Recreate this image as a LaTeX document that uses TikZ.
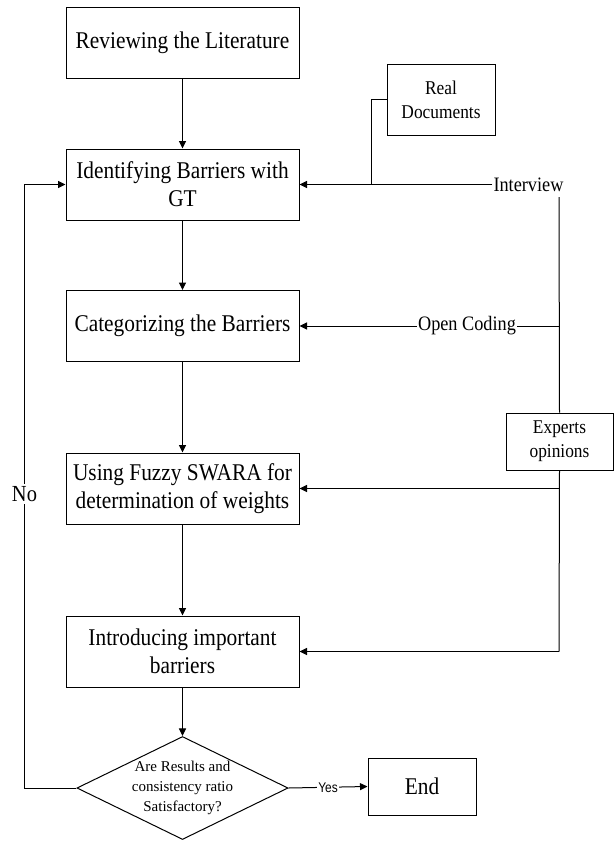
\documentclass[tikz,border=0pt]{standalone}
\usepackage{fontspec}
\setmainfont{Liberation Serif}[FakeStretch=0.89]
\newfontfamily\dfont{Liberation Serif}
\newfontfamily\yfont{Liberation Sans}[FakeStretch=0.85]
\usetikzlibrary{arrows.meta,shapes.geometric}
\tikzset{
  stepbox/.style={draw, line width=1pt, minimum width=233pt, minimum height=71pt, inner sep=0pt, align=center, font=\fontsize{24}{28}\selectfont},
  sidebox/.style={draw, line width=1pt, inner sep=0pt, align=center, font=\fontsize{19.5}{24}\selectfont},
  decision/.style={draw, line width=1pt, diamond, aspect=2.05, minimum width=205pt, minimum height=100pt, inner sep=0pt, align=center, font=\dfont\fontsize{15}{20}\selectfont},
  lab/.style={fill=white, inner sep=1pt, font=\fontsize{20.5}{24}\selectfont},
  conn/.style={line width=1pt},
  arr/.style={conn, -{Triangle[length=7.5pt,width=7pt]}}
}
\begin{document}
\begin{tikzpicture}[x=1pt,y=-1pt]
\useasboundingbox (0,0) rectangle (616,841);
% main steps
\node[stepbox] (b1) at (182.5,42.5) {Reviewing the Literature};
\node[stepbox] (b2) at (182.5,184.5) {Identifying Barriers with\\GT};
\node[stepbox] (b3) at (182.5,326) {Categorizing the Barriers};
\node[stepbox] (b4) at (182.5,488.5) {Using Fuzzy SWARA for\\determination of weights};
\node[stepbox] (b5) at (182.5,651.5) {Introducing important\\barriers};
\node[decision] (dia) at (182.5,788) {Are Results and\\consistency ratio\\Satisfactory?};
\node[stepbox, minimum width=108pt, minimum height=57pt] (end) at (422,786.5) {End};
% side boxes
\node[sidebox, minimum width=108pt, minimum height=71pt] (rd) at (441,99.5) {Real\\Documents};
\node[sidebox, minimum width=107pt, minimum height=57pt] (ex) at (559.5,441.5) {Experts\\opinions};
% labels
\node[lab] (iv) at (528.5,184.5) {Interview};
\node[lab] (oc) at (467,326) {Open Coding};
% coordinates
\coordinate (vtop) at (559,197);
\coordinate (v3) at (559,326);
\coordinate (v4) at (559,488.5);
\coordinate (v5) at (559,651.5);
\coordinate (j) at (371,184.5);
\coordinate (fb) at (24.5,788);
% vertical flow
\draw[arr] (b1) -- (b2);
\draw[arr] (b2) -- (b3);
\draw[arr] (b3) -- (b4);
\draw[arr] (b4) -- (b5);
\draw[arr] (b5) -- (dia);
% right side
\draw[arr] (iv.west) -- (b2.east);
\draw[conn] (rd.west) -| (j);
\draw[conn] (vtop) -- (ex.north);
\draw[conn] (ex.south) -- (v5);
\draw[conn] (v3) -- (oc.east);
\draw[arr] (oc.west) -- (b3.east);
\draw[arr] (v4) -- (b4.east);
\draw[arr] (v5) -- (b5.east);
% decision outputs
\draw[arr] (dia.west) -- (fb) |- (b2.west);
\node[lab, font=\fontsize{23}{26}\selectfont, inner sep=2pt] (no) at (24.5,494) {No};
\draw[arr] (dia.east) -- (end.west) node[midway, fill=white, inner sep=1pt, font=\yfont\fontsize{14}{16}\selectfont] (yes) {Yes};
\end{tikzpicture}
\end{document}
